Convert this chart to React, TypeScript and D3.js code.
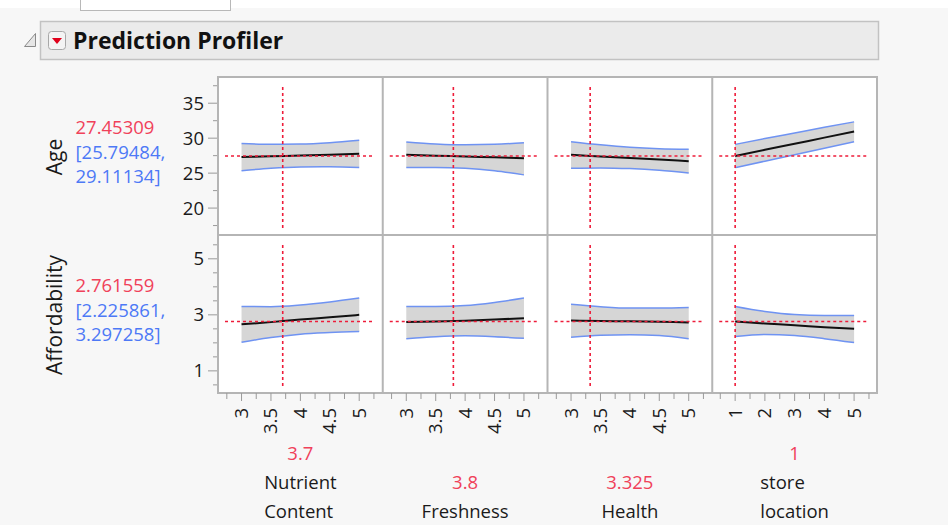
import React, { useRef, useEffect } from 'react';
import * as d3 from 'd3';

// factors (columns)
const factorNames = [['Nutrient', 'Content'], ['Freshness'], ['Health'], ['store', 'location']];
const factorValueText = ['3.7', '3.8', '3.325', '1'];
const factorCurrent = [3.7, 3.8, 3.325, 1];
const factorDomains = [[2.6, 5.4], [2.6, 5.4], [2.6, 5.4], [0.23, 5.77]];
const factorTicks = [[3, 3.5, 4, 4.5, 5], [3, 3.5, 4, 4.5, 5], [3, 3.5, 4, 4.5, 5], [1, 2, 3, 4, 5]];
const factorTickLabels = [
  ['3', '3.5', '4', '4.5', '5'],
  ['3', '3.5', '4', '4.5', '5'],
  ['3', '3.5', '4', '4.5', '5'],
  ['1', '2', '3', '4', '5'],
];
const factorMinorTicks = [
  [2.75, 3.25, 3.75, 4.25, 4.75, 5.25],
  [2.75, 3.25, 3.75, 4.25, 4.75, 5.25],
  [2.75, 3.25, 3.75, 4.25, 4.75, 5.25],
  [0.5, 1.5, 2.5, 3.5, 4.5, 5.5],
];
const factorGrid = [[3, 3.5, 4, 4.5, 5], [3, 3.5, 4, 4.5, 5], [3, 3.5, 4, 4.5, 5], [1, 2, 3, 4, 5]];

// responses (rows)
const responseNames = ['Age', 'Affordability'];
const responseValueText = ['27.45309', '2.761559'];
const responseLowerText = ['[25.79484,', '[2.225861,'];
const responseUpperText = ['29.11134]', '3.297258]'];
const responseCurrent = [27.45309, 2.761559];
const responseDomains = [[16.15, 38.75], [0.21, 5.85]];
const responseTicks = [[20, 25, 30, 35], [1, 3, 5]];
const responseMinorTicks = [[17.5, 22.5, 27.5, 32.5, 37.5], [0.5, 1.5, 2, 2.5, 3.5, 4, 4.5, 5.5]];

// profile traces: [response][factor][point]
const ageMid = [
  [27.29, 27.41, 27.52, 27.64, 27.76],
  [27.62, 27.5, 27.38, 27.26, 27.14],
  [27.62, 27.39, 27.16, 26.94, 26.71],
  [27.45, 28.33, 29.2, 30.08, 30.95],
];
const ageUpper = [
  [29.24, 29.12, 29.15, 29.35, 29.71],
  [29.46, 29.18, 29.05, 29.12, 29.35],
  [29.5, 29.05, 28.7, 28.5, 28.43],
  [29.11, 29.95, 30.75, 31.55, 32.33],
];
const ageLower = [
  [25.34, 25.7, 25.89, 25.93, 25.81],
  [25.8, 25.8, 25.7, 25.35, 24.75],
  [25.7, 25.75, 25.65, 25.4, 25.0],
  [25.79, 26.71, 27.62, 28.55, 29.5],
];
const affMid = [
  [2.66, 2.74, 2.83, 2.91, 3.0],
  [2.74, 2.76, 2.79, 2.83, 2.88],
  [2.8, 2.78, 2.77, 2.75, 2.73],
  [2.76, 2.69, 2.63, 2.56, 2.5],
];
const affUpper = [
  [3.3, 3.29, 3.35, 3.46, 3.6],
  [3.3, 3.3, 3.33, 3.44, 3.6],
  [3.38, 3.29, 3.24, 3.24, 3.26],
  [3.3, 3.12, 3.01, 2.98, 2.98],
];
const affLower = [
  [2.02, 2.19, 2.31, 2.37, 2.41],
  [2.15, 2.22, 2.25, 2.22, 2.16],
  [2.2, 2.27, 2.29, 2.26, 2.15],
  [2.23, 2.3, 2.26, 2.15, 2.01],
];
const traceMid = [ageMid, affMid];
const traceUpper = [ageUpper, affUpper];
const traceLower = [ageLower, affLower];

const W = 948;
const H = 525;
const FONT = '"Open Sans", "Noto Sans", sans-serif';
const RED = '#f0415a';
const BLUE = '#4d79f6';

export default function App() {
  const svgRef = useRef<SVGSVGElement>(null);

  useEffect(() => {
    if (!svgRef.current) return;
    const svg = d3.select(svgRef.current);
    svg.selectAll('*').remove();

    const gridLeft = 218, gridRight = 877, gridTop = 77, gridBottom = 393;
    const colW = (gridRight - gridLeft) / 4;
    const rowH = (gridBottom - gridTop) / 2;

    // page background
    svg.append('rect').attr('width', W).attr('height', H).attr('fill', '#f7f7f7');
    svg.append('rect').attr('width', W).attr('height', 8).attr('fill', '#ffffff');
    svg.append('rect').attr('x', 80.5).attr('y', -2).attr('width', 150).attr('height', 12.5)
      .attr('fill', '#ffffff').attr('stroke', '#b8b8b8');

    // header bar
    svg.append('rect').attr('x', 40.5).attr('y', 21.5).attr('width', 838).attr('height', 38)
      .attr('fill', '#ebebeb').attr('stroke', '#c2c2c2').attr('stroke-width', 1.5);
    svg.append('path').attr('d', 'M24.5,46.5 L35.5,33.5 L35.5,46.5 Z')
      .attr('fill', '#e6e6e6').attr('stroke', '#8a8a8a').attr('stroke-width', 1);
    svg.append('rect').attr('x', 48.5).attr('y', 31.5).attr('width', 17).attr('height', 18).attr('rx', 3)
      .attr('fill', '#f4f4f4').attr('stroke', '#a8a8a8');
    svg.append('path').attr('d', 'M52,38 L62,38 L57,44 Z').attr('fill', '#e0001b');
    svg.append('text').attr('x', 73).attr('y', 48.5)
      .attr('font-family', FONT).attr('font-weight', 'bold').attr('font-size', 23)
      .attr('fill', '#111').text('Prediction Profiler');

    // panels
    for (let r = 0; r < 2; r++) {
      const top = gridTop + r * rowH;
      const y = d3.scaleLinear().domain(responseDomains[r]).range([top + rowH, top]);
      for (let c = 0; c < 4; c++) {
        const left = gridLeft + c * colW;
        const x = d3.scaleLinear().domain(factorDomains[c]).range([left, left + colW]);
        const g = svg.append('g');
        g.append('rect').attr('x', left).attr('y', top).attr('width', colW).attr('height', rowH).attr('fill', '#ffffff');

        const pts = factorGrid[c].map((v, i) => ({
          x: v,
          mid: traceMid[r][c][i],
          lo: traceLower[r][c][i],
          hi: traceUpper[r][c][i],
        }));
        const band = d3.area<any>().x(d => x(d.x)).y0(d => y(d.lo)).y1(d => y(d.hi)).curve(d3.curveMonotoneX);
        g.append('path').datum(pts).attr('d', band).attr('fill', '#d6d6d6');
        const lineOf = (key: string) => d3.line<any>().x(d => x(d.x)).y(d => y(d[key])).curve(d3.curveMonotoneX);
        ['lo', 'hi'].forEach(k => {
          g.append('path').datum(pts).attr('d', lineOf(k)).attr('fill', 'none')
            .attr('stroke', '#6f93f2').attr('stroke-width', 1.5);
        });
        g.append('path').datum(pts).attr('d', lineOf('mid')).attr('fill', 'none')
          .attr('stroke', '#111').attr('stroke-width', 2);

        // current value crosshair
        g.append('line')
          .attr('x1', left + 7).attr('x2', left + colW - 8)
          .attr('y1', y(responseCurrent[r])).attr('y2', y(responseCurrent[r]))
          .attr('stroke', '#ee1c3a').attr('stroke-width', 1.6).attr('stroke-dasharray', '3,3');
        g.append('line')
          .attr('x1', x(factorCurrent[c])).attr('x2', x(factorCurrent[c]))
          .attr('y1', top + 10).attr('y2', top + rowH - 7)
          .attr('stroke', '#ee1c3a').attr('stroke-width', 1.6).attr('stroke-dasharray', '3,3');
      }

      // left axis
      const ax = svg.append('g').attr('font-family', FONT);
      responseMinorTicks[r].forEach(v => {
        ax.append('line').attr('x1', gridLeft - 5).attr('x2', gridLeft).attr('y1', y(v)).attr('y2', y(v))
          .attr('stroke', '#9a9a9a').attr('stroke-width', 1);
      });
      responseTicks[r].forEach(v => {
        ax.append('line').attr('x1', gridLeft - 10).attr('x2', gridLeft).attr('y1', y(v)).attr('y2', y(v))
          .attr('stroke', '#9a9a9a').attr('stroke-width', 1);
        ax.append('text').attr('x', 204).attr('y', y(v)).attr('dy', '0.35em')
          .attr('text-anchor', 'end').attr('font-size', 18.5).attr('fill', '#1a1a1a').text(String(v));
      });

      // response name and current value
      const cy = top + rowH / 2;
      svg.append('text').attr('transform', `translate(62,${cy + 1}) rotate(-90)`)
        .attr('text-anchor', 'middle').attr('font-family', FONT).attr('font-size', 21)
        .attr('fill', '#1a1a1a').text(responseNames[r]);
      const vt = svg.append('g').attr('font-family', FONT).attr('font-size', 18.5);
      vt.append('text').attr('x', 75.5).attr('y', cy - 22).attr('fill', RED).text(responseValueText[r]);
      vt.append('text').attr('x', 75.5).attr('y', cy + 2.5).attr('fill', BLUE).text(responseLowerText[r]);
      vt.append('text').attr('x', 75.5).attr('y', cy + 27).attr('fill', BLUE).text(responseUpperText[r]);
    }

    // grid lines
    const gl = svg.append('g').attr('stroke', '#b5b5b5').attr('stroke-width', 2).attr('fill', 'none');
    gl.append('rect').attr('x', gridLeft).attr('y', gridTop).attr('width', gridRight - gridLeft).attr('height', gridBottom - gridTop);
    for (let c = 1; c < 4; c++) {
      gl.append('line').attr('x1', gridLeft + c * colW).attr('x2', gridLeft + c * colW).attr('y1', gridTop).attr('y2', gridBottom);
    }
    gl.append('line').attr('x1', gridLeft).attr('x2', gridRight).attr('y1', gridTop + rowH).attr('y2', gridTop + rowH);

    // bottom axes and factor labels
    for (let c = 0; c < 4; c++) {
      const left = gridLeft + c * colW;
      const x = d3.scaleLinear().domain(factorDomains[c]).range([left, left + colW]);
      const bx = svg.append('g').attr('font-family', FONT);
      factorMinorTicks[c].forEach(v => {
        bx.append('line').attr('x1', x(v)).attr('x2', x(v)).attr('y1', gridBottom).attr('y2', gridBottom + 6)
          .attr('stroke', '#9a9a9a');
      });
      factorTicks[c].forEach((v, i) => {
        bx.append('line').attr('x1', x(v)).attr('x2', x(v)).attr('y1', gridBottom).attr('y2', gridBottom + 8)
          .attr('stroke', '#9a9a9a');
        bx.append('text').attr('transform', `translate(${x(v)},408) rotate(-90)`)
          .attr('dy', '0.35em').attr('text-anchor', 'end').attr('font-size', 18.5).attr('fill', '#1a1a1a')
          .text(factorTickLabels[c][i]);
      });

      const cx = left + colW / 2;
      const lines = factorNames[c];
      const nameBase = 518 - (lines.length - 1) * 29;
      bx.append('text').attr('x', cx).attr('y', nameBase - 29).attr('text-anchor', 'middle')
        .attr('font-size', 18.5).attr('fill', RED).text(factorValueText[c]);
      const nameTexts = lines.map((t, i) =>
        bx.append('text').attr('y', nameBase + i * 29).attr('font-size', 18.5).attr('fill', '#1a1a1a').text(t));
      const widths = nameTexts.map(t => (t.node() as SVGTextElement).getComputedTextLength());
      const blockLeft = cx - Math.max(...widths) / 2;
      nameTexts.forEach(t => t.attr('x', blockLeft));
    }
  }, []);

  return (
    <div style={{ position: 'absolute', left: 0, top: 0 }}>
      <svg ref={svgRef} width={W} height={H} style={{ display: 'block' }} />
    </div>
  );
}
